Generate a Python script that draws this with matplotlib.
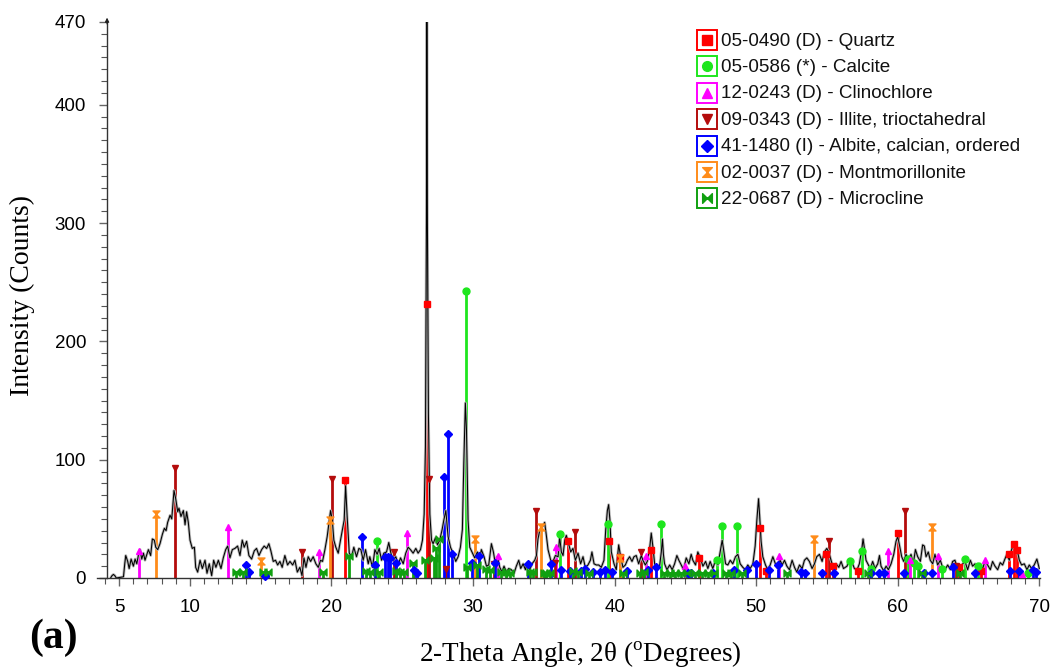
import matplotlib
matplotlib.use("Agg")
import matplotlib.pyplot as plt
from matplotlib.path import Path
from matplotlib.patches import Rectangle
from matplotlib import font_manager
from matplotlib.ticker import MultipleLocator, FixedLocator

# measured XRD pattern (2-theta, counts)
two_theta = [4.40, 4.50, 4.60, 4.70, 4.80, 5.31, 5.40, 5.47, 5.61, 5.71, 5.85, 6.01, 6.13, 6.25, 6.36, 6.48,
             6.60, 6.72, 6.83, 7.07, 7.23, 7.35, 7.49, 7.59, 7.73, 7.89, 8.06, 8.20, 8.32, 8.43, 8.60,
             8.72, 8.88, 9.00, 9.14, 9.23, 9.37, 9.54, 9.66, 9.77, 9.89, 10.01, 10.17, 10.32, 10.41,
             10.55, 10.72, 10.88, 11.07, 11.21, 11.37, 11.54, 11.68, 11.84, 12.01, 12.20, 12.36, 12.53,
             12.67, 12.83, 13.00, 13.18, 13.37, 13.54, 13.70, 13.84, 14.01, 14.17, 14.36, 14.55, 14.71,
             14.88, 15.07, 15.25, 15.42, 15.58, 15.72, 15.89, 16.05, 16.20, 16.36, 16.52, 16.71, 16.90,
             17.07, 17.26, 17.42, 17.59, 17.77, 17.92, 18.06, 18.20, 18.36, 18.53, 18.71, 18.90, 19.07,
             19.23, 19.37, 19.54, 19.70, 19.84, 19.94, 20.06, 20.17, 20.31, 20.48, 20.64, 20.78, 20.90,
             21.00, 21.11, 21.26, 21.42, 21.58, 21.77, 21.94, 22.08, 22.24, 22.41, 22.60, 22.71, 22.90,
             23.07, 23.23, 23.37, 23.54, 23.70, 23.89, 24.05, 24.20, 24.36, 24.55, 24.71, 24.88, 25.07,
             25.25, 25.42, 25.58, 25.77, 25.96, 26.12, 26.29, 26.43, 26.55, 26.64, 26.71, 26.74, 26.78,
             26.85, 26.95, 27.07, 27.18, 27.35, 27.49, 27.65, 27.82, 27.94, 28.08, 28.24, 28.41, 28.59,
             28.78, 28.95, 29.11, 29.25, 29.35, 29.46, 29.54, 29.65, 29.77, 29.96, 30.12, 30.31, 30.48,
             30.59, 30.78, 30.95, 31.11, 31.30, 31.44, 31.58, 31.72, 31.89, 32.05, 32.19, 32.36, 32.52,
             32.71, 32.90, 33.06, 33.23, 33.37, 33.54, 33.70, 33.84, 34.01, 34.17, 34.36, 34.48, 34.59,
             34.71, 34.83, 34.95, 35.06, 35.18, 35.30, 35.49, 35.65, 35.82, 36.01, 36.12, 36.24, 36.36,
             36.48, 36.59, 36.71, 36.90, 37.06, 37.23, 37.42, 37.60, 37.77, 37.93, 38.12, 38.29, 38.40,
             38.55, 38.71, 38.88, 39.06, 39.25, 39.37, 39.49, 39.58, 39.67, 39.77, 39.96, 40.12, 40.29,
             40.43, 40.59, 40.76, 40.90, 41.06, 41.23, 41.37, 41.53, 41.70, 41.89, 42.00, 42.17, 42.31,
             42.47, 42.59, 42.71, 42.83, 43.02, 43.18, 43.30, 43.38, 43.45, 43.53, 43.70, 43.89, 44.07,
             44.24, 44.40, 44.54, 44.71, 44.87, 45.06, 45.25, 45.41, 45.53, 45.72, 45.88, 46.05, 46.24,
             46.43, 46.59, 46.75, 46.94, 47.13, 47.30, 47.46, 47.60, 47.70, 47.84, 48.00, 48.17, 48.35,
             48.54, 48.71, 48.87, 49.06, 49.25, 49.41, 49.58, 49.77, 49.93, 50.05, 50.17, 50.24, 50.35,
             50.47, 50.66, 50.82, 50.99, 51.18, 51.36, 51.53, 51.69, 51.84, 52.00, 52.17, 52.35, 52.54,
             52.71, 52.87, 53.06, 53.25, 53.41, 53.58, 53.76, 53.95, 54.12, 54.28, 54.47, 54.66, 54.82,
             54.99, 55.13, 55.29, 55.46, 55.65, 55.84, 56.00, 56.17, 56.42, 56.59, 56.75, 56.94, 57.13,
             57.29, 57.46, 57.55, 57.65, 57.76, 57.93, 58.07, 58.23, 58.40, 58.59, 58.71, 58.82, 59.01,
             59.18, 59.34, 59.53, 59.72, 59.88, 60.00, 60.12, 60.28, 60.42, 60.59, 60.75, 60.94, 61.10,
             61.25, 61.41, 61.60, 61.76, 61.88, 62.00, 62.16, 62.30, 62.47, 62.63, 62.82, 63.01, 63.17,
             63.34, 63.53, 63.72, 63.88, 64.04, 64.23, 64.42, 64.59, 64.75, 64.94, 65.13, 65.29, 65.46,
             65.64, 65.83, 66.00, 66.16, 66.35, 66.54, 66.70, 66.87, 67.06, 67.24, 67.41, 67.57, 67.71,
             67.88, 68.00, 68.12, 68.23, 68.35, 68.47, 68.59, 68.75, 68.94, 69.13, 69.29, 69.46, 69.64,
             69.83, 70.00]
counts = [0, 2, 3, 2, 0, 1, 12, 19, 14, 8, 16, 10, 16, 12, 19, 24,
          16, 21, 15, 24, 19, 33, 32, 26, 24, 29, 37, 42, 40, 47, 53,
          50, 74, 67, 56, 59, 52, 57, 45, 56, 47, 32, 25, 26, 9,
          5, 15, 8, 15, 4, 12, 2, 15, 9, 15, 8, 17, 24,
          27, 17, 24, 25, 27, 19, 32, 26, 31, 19, 16, 23, 25,
          19, 24, 27, 25, 29, 23, 14, 15, 11, 14, 9, 19, 11,
          14, 11, 15, 5, 9, 2, 17, 9, 18, 14, 18, 12, 9,
          15, 14, 24, 35, 48, 57, 49, 32, 26, 21, 32, 41, 49,
          78, 52, 21, 18, 26, 18, 25, 24, 15, 24, 12, 18, 9,
          24, 20, 25, 15, 21, 22, 30, 21, 15, 18, 11, 17, 12,
          21, 26, 24, 21, 25, 21, 24, 32, 54, 111, 300, 470, 300,
          139, 54, 32, 29, 34, 28, 32, 41, 49, 57, 35, 26, 21,
          14, 18, 26, 41, 97, 148, 125, 49, 26, 21, 17, 22, 17,
          24, 18, 10, 11, 29, 22, 12, 18, 9, 5, 10, 5, 8,
          7, 4, 10, 15, 8, 12, 7, 13, 7, 12, 15, 19, 33,
          40, 43, 44, 47, 36, 24, 15, 14, 19, 18, 35, 22, 19,
          32, 36, 31, 22, 25, 15, 21, 12, 18, 9, 11, 15, 22,
          12, 11, 11, 9, 15, 40, 57, 62, 49, 22, 12, 7, 28,
          18, 9, 11, 15, 18, 14, 18, 19, 12, 19, 15, 11, 14,
          24, 38, 26, 12, 7, 10, 22, 33, 20, 12, 7, 11, 7,
          12, 19, 15, 11, 7, 17, 12, 20, 15, 11, 22, 17, 10,
          14, 8, 14, 8, 15, 11, 22, 32, 24, 12, 11, 15, 12,
          18, 20, 12, 9, 7, 11, 8, 12, 27, 49, 67, 54, 31,
          18, 11, 7, 11, 18, 12, 8, 15, 11, 15, 10, 7, 15,
          9, 5, 11, 8, 15, 17, 14, 8, 12, 18, 20, 14, 22,
          25, 22, 15, 8, 12, 9, 14, 8, 10, 16, 14, 8, 7,
          12, 24, 33, 25, 15, 11, 8, 14, 8, 12, 19, 10, 6,
          10, 7, 12, 20, 31, 35, 28, 18, 14, 20, 15, 20, 12,
          24, 18, 14, 28, 27, 18, 22, 15, 12, 20, 11, 15, 9,
          7, 11, 7, 14, 15, 8, 5, 12, 14, 7, 15, 10, 12,
          7, 12, 8, 14, 11, 7, 14, 10, 7, 13, 11, 16, 20,
          15, 22, 27, 29, 27, 22, 15, 11, 12, 7, 11, 8, 11,
          16, 8]

# reference patterns: positions and intensities of each phase
quartz_pos = [20.97, 26.74, 36.71, 39.62, 40.40, 42.54, 45.93, 50.24, 50.72, 54.94, 55.41, 57.22,
              60.05, 64.35, 65.88, 67.83, 68.23, 68.40]
quartz_int = [83, 232, 31, 31, 18, 24, 17, 42, 6, 20, 10, 6, 38, 9, 6, 20, 29, 24]

calcite_pos = [23.23, 29.54, 36.13, 39.53, 43.30, 47.22, 47.60, 48.64, 56.66, 57.46, 58.12, 60.70,
               61.13, 61.46, 63.10, 64.75, 65.64, 69.20]
calcite_int = [31, 243, 37, 46, 46, 15, 44, 44, 14, 23, 8, 16, 13, 10, 8, 16, 10, 4]

clino_pos = [6.41, 12.67, 19.11, 25.35, 31.77, 35.89, 42.24, 44.94, 51.58, 59.29, 60.89, 62.87,
             66.16, 68.80]
clino_int = [23, 43, 22, 38, 19, 26, 19, 10, 19, 23, 15, 19, 15, 3]

illite_pos = [8.95, 17.89, 20.01, 24.43, 26.90, 28.12, 31.45, 34.48, 35.77, 37.23, 41.89, 55.18,
              60.54, 64.12]
illite_int = [93, 22, 84, 22, 84, 8, 12, 57, 13, 39, 22, 31, 57, 10]

albite_pos = [13.96, 14.20, 15.30, 22.13, 23.09, 23.77, 23.96, 24.12, 24.55, 25.82, 26.01, 27.94,
              28.24, 28.52, 29.96, 30.43, 31.58, 33.89, 35.49, 36.19, 36.83, 37.65, 37.89, 38.47,
              38.95, 39.30, 39.82, 40.90, 42.35, 42.95, 45.18, 45.41, 46.94, 48.47, 49.34, 50.00,
              50.94, 51.55, 53.18, 53.48, 54.66, 55.53, 58.10, 58.71, 59.00, 60.42, 61.88, 62.40,
              63.88, 65.46, 67.95, 68.60, 69.53, 69.80]
albite_int = [11, 5, 2, 35, 11, 18, 18, 17, 13, 7, 4, 85,
              122, 20, 13, 19, 13, 12, 12, 7, 6, 6, 8, 5,
              5, 7, 5, 6, 7, 9, 4, 4, 4, 7, 7, 12,
              7, 11, 5, 4, 4, 4, 4, 4, 4, 4, 4, 4,
              9, 4, 6, 6, 7, 5]

montm_pos = [7.59, 15.02, 19.89, 30.17, 34.83, 40.38, 54.12, 62.42]
montm_int = [54, 14, 49, 33, 43, 17, 33, 43]

micro_pos = [13.25, 13.77, 15.18, 15.54, 19.42, 21.26, 22.43, 22.71, 23.37, 24.55, 24.83, 25.11,
             25.77, 26.59, 27.23, 27.42, 27.61, 29.61, 30.31, 30.95, 31.18, 32.00, 32.36, 32.60,
             34.00, 34.24, 35.00, 35.18, 35.42, 37.06, 37.45, 38.20, 40.60, 41.80, 42.10, 43.50,
             43.90, 44.30, 44.70, 45.10, 45.70, 46.20, 46.60, 47.00, 47.90, 48.20, 49.00, 52.20,
             57.90, 61.70, 64.40]
micro_int = [5, 5, 5, 5, 5, 19, 6, 5, 5, 6, 5, 5,
             13, 15, 17, 25, 33, 9, 11, 8, 7, 5, 5, 4,
             5, 5, 4, 4, 4, 6, 5, 4, 4, 4, 5, 4,
             4, 4, 4, 4, 4, 4, 4, 4, 4, 4, 4, 4,
             4, 4, 4]

labels = ["05-0490 (D) - Quartz", "05-0586 (*) - Calcite", "12-0243 (D) - Clinochlore",
          "09-0343 (D) - Illite, trioctahedral", "41-1480 (I) - Albite, calcian, ordered",
          "02-0037 (D) - Montmorillonite", "22-0687 (D) - Microcline"]

hourglass = Path([(-1, 1), (1, 1), (-1, -1), (1, -1), (-1, 1)],
                 [Path.MOVETO, Path.LINETO, Path.LINETO, Path.LINETO, Path.CLOSEPOLY])
bowtie = Path([(-1, -1), (-1, 1), (1, -1), (1, 1), (-1, -1)],
              [Path.MOVETO, Path.LINETO, Path.LINETO, Path.LINETO, Path.CLOSEPOLY])

phases = [
    (quartz_pos, quartz_int, "#ff0000", "s", 5.0),
    (calcite_pos, calcite_int, "#1ee61e", "o", 5.0),
    (clino_pos, clino_int, "#ff00ff", "^", 5.0),
    (illite_pos, illite_int, "#b40c0c", "v", 5.0),
    (albite_pos, albite_int, "#0000ff", "D", 4.0),
    (montm_pos, montm_int, "#ff8c1a", hourglass, 5.0),
    (micro_pos, micro_int, "#10a010", bowtie, 5.0),
]

installed = {f.name for f in font_manager.fontManager.ttflist}
narrow = "Liberation Sans"
for cand in ["Liberation Sans Narrow", "DejaVu Sans Condensed"]:
    if cand in installed:
        narrow = cand
        break

plt.rcParams["mathtext.fontset"] = "custom"
plt.rcParams["mathtext.rm"] = "Liberation Serif"

fig = plt.figure(figsize=(10.55, 6.71), dpi=100)
ax = fig.add_axes([97 / 1055, 1 - 578 / 671, (1040 - 97) / 1055, (578 - 22) / 671])

# sticks under the pattern
for pos, inten, col, mk, ms in phases:
    ax.vlines(pos, 0, inten, colors=col, lw=2.0, zorder=2)

ax.plot(two_theta, counts, color="#b8b8b8", lw=2.0, zorder=3, solid_joinstyle="round")
ax.plot(two_theta, counts, color="black", lw=0.75, zorder=4)

for pos, inten, col, mk, ms in phases:
    ax.plot(pos, inten, ls="none", marker=mk, ms=ms, color=col, mec=col, zorder=5, clip_on=False)

ax.set_xlim(3.44, 70.05)
ax.set_ylim(0, 470)
for s in ["top", "right"]:
    ax.spines[s].set_visible(False)
ax.spines["left"].set_position(("data", 4.15))
for s in ["left", "bottom"]:
    ax.spines[s].set_color("#333333")
    ax.spines[s].set_linewidth(1.0)

ax.xaxis.set_major_locator(FixedLocator([5, 10, 20, 30, 40, 50, 60, 70]))
ax.xaxis.set_minor_locator(MultipleLocator(1))
ax.yaxis.set_major_locator(FixedLocator([0, 100, 200, 300, 400, 470]))
ax.yaxis.set_minor_locator(MultipleLocator(10))
ax.tick_params(which="major", direction="out", length=6, width=1, color="#666666", pad=9)
ax.tick_params(which="minor", direction="out", length=4, width=0.8, color="#555555")
for t in ax.get_xticklabels():
    t.set_family(narrow)
    t.set_fontsize(13.5)
for t in ax.get_yticklabels():
    t.set_family("Liberation Sans")
    t.set_fontsize(13.5)

ax.annotate("", xy=(4.15, 476), xytext=(4.15, 466), annotation_clip=False,
            arrowprops=dict(arrowstyle="-|>", color="#222222", lw=0.8, mutation_scale=6))

fig.text(22 / 1055, 1 - 295 / 671, "Intensity (Counts)", rotation=90, ha="center", va="center",
         family="Liberation Serif", fontsize=20)
fig.text(580 / 1055, 1 - 654 / 671, "2-Theta Angle, 2\u03b8 ($^{\\mathrm{o}}$Degrees)",
         ha="center", va="center", family="Liberation Serif", fontsize=19.5)
fig.text(29 / 1055, 1 - 638 / 671, "(a)", ha="left", va="center", family="Liberation Serif",
         fontsize=30, fontweight="bold")

# legend drawn in pixel coordinates
lax = fig.add_axes([0, 0, 1, 1], zorder=6)
lax.set_xlim(0, 1055)
lax.set_ylim(671, 0)
lax.axis("off")
for i, (lab, ph) in enumerate(zip(labels, phases)):
    yc = 40 + i * 26.4
    col, mk = ph[2], ph[3]
    lax.add_patch(Rectangle((697, yc - 10), 20, 20, facecolor="white", edgecolor=col, lw=1.4))
    lax.plot([707], [yc], marker=mk, ms=7 if mk != "D" else 6, color=col, mec=col, ls="none")
    lax.text(721, yc + 1, lab, ha="left", va="center", family="Liberation Sans", fontsize=13.6,
             color="#111111")

fig.savefig("out.png", dpi=100)
